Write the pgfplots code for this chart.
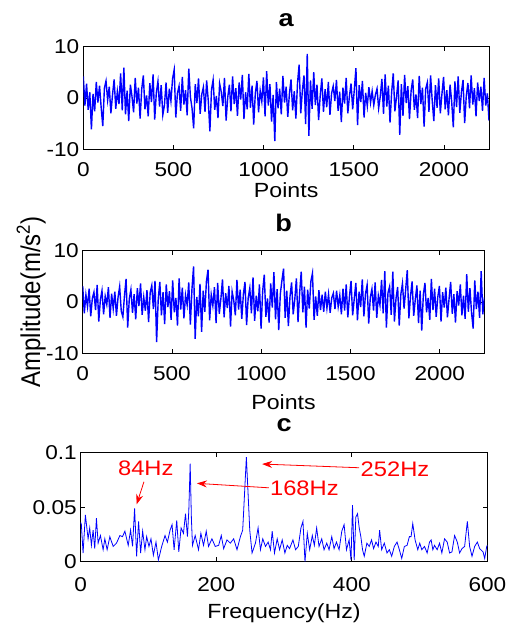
\documentclass[border=0pt]{standalone}
\usepackage{fontspec}
\setmainfont{Liberation Sans}
\usepackage{pgfplots}
\usepackage{pgfplotstable}
\pgfplotsset{compat=1.18}
\usetikzlibrary{arrows.meta}

% signal a, one value every 9 points
\pgfplotstableread[row sep=\\]{
v\\
4.2\\ -1.5\\ 2.8\\ -2.3\\ 1.1\\ -6.1\\ 0.8\\ -2.6\\ 3.1\\ -0.9\\ 2.4\\ -1.8\\ -5.5\\ 1.9\\ 3.3\\ -0.4\\ 2.2\\ -3.0\\ 0.6\\ 3.6\\ -2.1\\ 1.3\\ -1.2\\ 4.8\\ -2.4\\
5.9\\ -3.2\\ 1.4\\ -4.5\\ 2.6\\ 0.3\\ -2.8\\ 3.9\\ -1.1\\ 2.0\\ -4.0\\ 1.7\\ 4.4\\ -2.2\\ 0.5\\ -3.6\\ 2.9\\ -0.8\\ 4.6\\ -4.2\\ 1.0\\ 3.2\\ -1.7\\ 2.5\\ -3.3\\
-1.4\\ 3.0\\ -2.9\\ 1.8\\ -0.6\\ 3.7\\ 5.5\\ -3.8\\ 0.9\\ 2.3\\ -2.5\\ 4.1\\ -1.3\\ 1.5\\ -3.4\\ 5.7\\ 0.2\\ -2.0\\ -5.9\\ 2.7\\ -1.0\\ 3.8\\ -3.1\\ 0.7\\ 2.1\\
-2.7\\ 3.4\\ -0.5\\ -6.5\\ 1.6\\ 3.5\\ -2.3\\ 0.4\\ -3.9\\ 2.8\\ 1.2\\ -1.6\\ 3.9\\ -4.4\\ 0.1\\ 2.6\\ -2.6\\ 4.2\\ -1.2\\ 1.9\\ -3.5\\ 3.0\\ -0.3\\ 4.5\\ -4.1\\
1.1\\ -2.2\\ 4.7\\ -1.9\\ 2.4\\ -5.2\\ 0.9\\ 3.3\\ -2.8\\ 1.4\\ -0.7\\ 4.0\\ -3.6\\ 5.2\\ -1.5\\ 2.7\\ -4.6\\ 0.6\\ -8.4\\ 3.1\\ -2.0\\ 1.8\\ -3.2\\ 4.3\\ -0.9\\
2.2\\ -3.7\\ 0.8\\ 3.6\\ -2.4\\ 1.3\\ -4.0\\ 2.9\\ 6.5\\ -3.0\\ 1.5\\ 4.4\\ -5.1\\ 8.6\\ -7.4\\ 3.4\\ -2.1\\ 5.0\\ -1.4\\ 2.6\\ -4.3\\ 0.5\\ 3.8\\ -2.7\\ 1.7\\
-1.8\\ 3.1\\ -3.3\\ 0.9\\ 2.3\\ -0.6\\ 3.5\\ -2.5\\ 1.2\\ -4.7\\ 2.0\\ -1.1\\ 3.9\\ -3.0\\ 0.4\\ 2.8\\ -2.2\\ 1.6\\ 5.8\\ -5.3\\ 2.5\\ -0.8\\ 3.3\\ -3.8\\ 1.0\\
-1.6\\ 2.1\\ -0.9\\ 1.3\\ -1.4\\ 0.6\\ 1.8\\ -2.0\\ 0.3\\ 3.7\\ -3.1\\ 4.6\\ -1.7\\ 2.4\\ -4.8\\ 1.1\\ 4.8\\ -2.6\\ 0.2\\ 3.4\\ -7.2\\ 2.7\\ -3.5\\ 4.5\\ -1.0\\
2.3\\ -4.1\\ 1.4\\ 3.6\\ -2.3\\ 0.7\\ -3.9\\ 4.3\\ -1.2\\ 2.0\\ -5.6\\ 1.8\\ 3.0\\ -2.7\\ 4.4\\ -0.5\\ -4.5\\ 2.5\\ -1.9\\ 3.8\\ -3.0\\ 0.8\\ 4.1\\ -2.2\\ 1.5\\
-3.4\\ 2.6\\ -0.7\\ -5.7\\ 3.2\\ -1.8\\ 4.2\\ -2.9\\ 1.1\\ 3.5\\ -4.9\\ 0.4\\ 2.9\\ -2.0\\ 4.4\\ -1.3\\ 1.9\\ -3.6\\ 3.0\\ -0.6\\ 2.2\\ -2.5\\ 3.9\\ -1.5\\ 0.9\\ -4.4\\
}\sigA

% signal b, one value every 9 points
\pgfplotstableread[row sep=\\]{
v\\
3.1\\ -2.2\\ 1.4\\ -0.9\\ 2.6\\ -2.8\\ 0.7\\ 1.9\\ -1.6\\ 3.3\\ -3.8\\ 0.4\\ 2.2\\ -2.4\\ 1.1\\ -0.5\\ 2.9\\ -3.1\\ 1.6\\ -1.3\\ 2.0\\ -2.7\\ 0.9\\ 3.0\\ -1.8\\
-2.9\\ 1.2\\ 4.5\\ -5.0\\ 0.6\\ 2.4\\ -2.1\\ 1.5\\ -3.4\\ 2.7\\ -0.8\\ 3.6\\ -2.5\\ 0.9\\ -1.7\\ 2.3\\ -3.9\\ 1.8\\ 3.2\\ -1.4\\ 4.1\\ -7.8\\ 0.5\\ 3.9\\ -2.6\\
1.9\\ -4.3\\ 3.4\\ -1.0\\ 2.1\\ -3.5\\ 4.2\\ -2.0\\ 0.8\\ -4.6\\ 4.6\\ -1.5\\ 2.8\\ -3.2\\ 1.3\\ -0.6\\ 3.8\\ -4.4\\ 2.5\\ 6.9\\ -7.2\\ 1.0\\ -2.8\\ 3.5\\ -5.8\\
2.2\\ -1.9\\ 4.0\\ 6.3\\ -3.6\\ 1.4\\ -0.7\\ 2.9\\ -4.1\\ 3.7\\ -2.3\\ 0.6\\ 4.4\\ -3.0\\ 1.7\\ -1.2\\ 3.1\\ -4.8\\ 2.0\\ 0.3\\ -2.6\\ 4.3\\ -1.5\\ 2.4\\ -3.3\\
1.5\\ 3.9\\ -4.5\\ 0.8\\ 2.7\\ -2.2\\ 4.8\\ -3.7\\ 1.2\\ -1.8\\ 3.4\\ -5.2\\ 2.1\\ 5.3\\ -2.9\\ 0.7\\ -4.0\\ 3.6\\ -1.1\\ 5.8\\ -3.4\\ 2.5\\ -5.5\\ 1.6\\ 4.2\\
6.5\\ -3.1\\ 2.2\\ -4.7\\ 1.0\\ 3.8\\ -2.4\\ 0.5\\ 4.6\\ -3.9\\ 1.7\\ 5.9\\ -2.0\\ 3.0\\ -5.0\\ 2.4\\ -1.3\\ 4.0\\ 5.6\\ -3.5\\ 1.1\\ -2.7\\ 2.3\\ -1.6\\ 1.4\\
-1.9\\ 2.0\\ -1.2\\ 1.5\\ -2.1\\ 0.8\\ 1.7\\ -1.4\\ 2.2\\ -0.9\\ 1.3\\ -2.4\\ 2.6\\ -1.7\\ 3.4\\ -3.0\\ 1.0\\ 4.1\\ -2.6\\ 0.6\\ 3.7\\ -3.6\\ 2.0\\ -1.0\\ 4.4\\
-2.8\\ 1.6\\ 3.3\\ -4.2\\ 0.9\\ 2.5\\ -1.7\\ 3.8\\ -3.1\\ 1.2\\ -0.6\\ 4.3\\ -2.2\\ 6.0\\ -5.0\\ 1.8\\ 3.0\\ -2.5\\ 5.9\\ -3.8\\ 0.7\\ 2.9\\ -4.6\\ 1.5\\ 3.6\\
-1.3\\ 2.4\\ 6.2\\ -3.2\\ 1.1\\ 4.0\\ -2.7\\ 0.5\\ 3.2\\ -4.1\\ 2.2\\ -5.6\\ 1.4\\ 3.7\\ -2.0\\ 0.8\\ -3.5\\ 4.5\\ -1.6\\ 2.6\\ -2.9\\ 1.0\\ 3.1\\ -3.8\\ 1.9\\
-1.1\\ 2.8\\ -3.0\\ 0.6\\ 3.9\\ -2.3\\ 1.5\\ -4.0\\ 2.1\\ -0.7\\ 3.4\\ -2.6\\ 1.2\\ -3.3\\ 5.4\\ -1.9\\ 2.7\\ -2.1\\ -5.2\\ 4.2\\ -1.4\\ 2.0\\ -3.1\\ 6.0\\ -2.4\\ 0.9\\
}\sigB

\definecolor{mblue}{RGB}{0,0,255}
\definecolor{mred}{RGB}{255,0,0}

\pgfplotsset{
  sig/.style={scale only axis, tick pos=both, tick align=inside,
    major tick length=4.5pt, axis line style={line width=0.8pt},
    every tick/.style={black, line width=0.8pt},
    tick label style={font=\fontsize{20}{22}\selectfont, xscale=1.13},
    label style={font=\fontsize{20.5}{22}\selectfont, xscale=1.13},
    xlabel style={at={(0.5,0)}, anchor=base},
    xticklabel style={anchor=base},
  },
}
\tikzset{ttl/.style={anchor=base, font=\fontsize{24}{26}\selectfont\bfseries, xscale=1.13}}

\begin{document}
\begin{tikzpicture}
\path[use as bounding box] (0pt,0pt) rectangle (507pt,-626pt);

\begin{axis}[sig, name=pa, at={(83.3pt,-149.3pt)}, anchor=south west,
  width=405.7pt, height=102.7pt,
  xmin=0, xmax=2250, ymin=-10, ymax=10,
  xtick={0,500,1000,1500,2000}, xticklabels={0,500,1000,1500,2000},
  ytick={-10,0,10}, yticklabels={-10,0,10},
  xlabel={Points}, xlabel style={yshift=-48pt},
  xticklabel style={yshift=-27.5pt}]
\addplot[mblue, line width=1.4pt] table[x expr=\coordindex*9, y=v] {\sigA};
\end{axis}

\begin{axis}[sig, name=pb, at={(82.7pt,-353.3pt)}, anchor=south west,
  width=401.7pt, height=102.7pt,
  xmin=0, xmax=2250, ymin=-10, ymax=10,
  xtick={0,500,1000,1500,2000}, xticklabels={0,500,1000,1500,2000},
  ytick={-10,0,10}, yticklabels={-10,0,10},
  xlabel={Points}, xlabel style={yshift=-56pt},
  xticklabel style={yshift=-26.7pt}]
\addplot[mblue, line width=1.4pt] table[x expr=\coordindex*9, y=v] {\sigB};
\end{axis}

\begin{axis}[sig, name=pc, at={(80.7pt,-561.7pt)}, anchor=south west,
  width=406.7pt, height=109pt, clip=false,
  xmin=0, xmax=600, ymin=0, ymax=0.1,
  xtick={0,200,400,600}, xticklabels={0,200,400,600},
  ytick={0,0.05,0.1}, yticklabels={0,0.05,0.1},
  xlabel={Frequency(Hz)}, xlabel style={yshift=-57pt},
  xticklabel style={yshift=-30pt}]
\addplot[mblue, line width=0.8pt] coordinates {
(0,0.036) (1.0,0.034) (3.5,0.008) (6.9,0.043) (10.9,0.021) (13.3,0.031) (15.8,0.015) (18.3,0.029) (20.7,0.012) (23.2,0.040)
(25.7,0.017) (29.1,0.024) (33.1,0.011) (35.6,0.021) (39.0,0.011) (43.0,0.023) (47.9,0.014) (52.8,0.017) (57.8,0.024) (61.7,0.023)
(65.2,0.028) (70.1,0.015) (73.6,0.029) (76.5,0.014) (79.5,0.049) (82.5,0.005) (85.4,0.037) (88.4,0.008) (91.4,0.028) (94.8,0.011)
(97.3,0.023) (100.7,0.014) (103.7,0.021) (107.2,0.006) (111.1,0.018) (114.6,0.0015) (119.5,0.014) (124.4,0.024) (127.9,0.018) (131.9,0.029)
(134.8,0.034) (137.8,0.011) (141.7,0.038) (144.7,0.009) (148.1,0.031) (151.6,0.026) (154.6,0.044) (157.5,0.023) (159.5,0.047) (161.5,0.090)
(163.3,0.040) (164.9,0.015) (168.9,0.024) (173.8,0.011) (177.3,0.026) (181.2,0.015) (185.2,0.028) (188.6,0.014) (193.6,0.021) (198.5,0.014)
(203.5,0.015) (207.4,0.024) (210.9,0.012) (215.8,0.020) (220.7,0.017) (225.7,0.021) (230.6,0.011) (235.6,0.023) (239.0,0.029) (242.0,0.066)
(244.4,0.096) (246.9,0.063) (249.4,0.029) (252.8,0.008) (257.8,0.017) (261.7,0.031) (265.2,0.011) (268.6,0.021) (272.6,0.014) (276.5,0.018)
(280.0,0.011) (282.5,0.028) (285.9,0.008) (289.9,0.021) (293.4,0.011) (297.3,0.020) (301.2,0.008) (304.7,0.015) (308.1,0.012) (313.1,0.020)
(317.0,0.011) (321.0,0.014) (324.9,0.031) (327.9,0.037) (330.9,0.0) (334.3,0.026) (337.8,0.011) (341.7,0.024) (344.7,0.015) (348.1,0.031)
(351.6,0.014) (355.6,0.021) (359.0,0.011) (363.0,0.017) (366.4,0.011) (370.4,0.023) (373.8,0.012) (377.3,0.018) (381.2,0.011) (385.2,0.028)
(388.6,0.034) (392.1,0.011) (396.0,0.020) (398.8,0.0015) (401.0,0.052) (403.5,0.0015) (405.9,0.041) (408.4,0.044) (410.9,0.031) (413.3,0.023)
(415.8,0.011) (418.3,0.005) (422.2,0.017) (425.7,0.014) (429.1,0.020) (432.1,0.012) (435.6,0.018) (439.0,0.014) (441.0,0.029) (444.0,0.011)
(447.9,0.017) (451.9,0.008) (455.3,0.011) (458.8,0.005) (462.7,0.014) (466.7,0.018) (470.1,0.011) (473.6,0.003) (477.5,0.014) (481.5,0.015)
(484.9,0.023) (487.4,0.023) (489.9,0.035) (493.3,0.020) (497.3,0.011) (500.2,0.017) (503.2,0.011) (507.2,0.014) (511.1,0.008) (514.6,0.018)
(517.0,0.020) (519.5,0.011) (522.0,0.015) (525.9,0.011) (529.4,0.017) (532.8,0.008) (536.8,0.021) (540.7,0.018) (544.2,0.008) (547.7,0.009)
(551.6,0.024) (555.6,0.018) (559.0,0.008) (562.5,0.012) (566.4,0.014) (570.4,0.037) (573.8,0.014) (577.3,0.005) (581.2,0.014) (585.2,0.018)
(588.6,0.012) (593.6,0.009) (596.0,0.003) (599.0,0.014) (600,0.015)
};
\draw[mred, line width=0.8pt, -{Stealth[length=10pt,width=7pt]}] (axis cs:93.3,0.0733) -- (axis cs:82.5,0.0526);
\draw[mred, line width=0.8pt, -{Stealth[length=10pt,width=7pt]}] (axis cs:277.5,0.0678) -- (axis cs:171.4,0.0719);
\draw[mred, line width=0.8pt, -{Stealth[length=10pt,width=7pt]}] (axis cs:410.8,0.0862) -- (axis cs:267.7,0.0896);
\node[mred, anchor=base, font=\fontsize{21}{23}\selectfont, xscale=1.13] at (axis cs:96,0.0795) {84Hz};
\node[mred, anchor=base, font=\fontsize{21}{23}\selectfont, xscale=1.13] at (axis cs:330,0.0611) {168Hz};
\node[mred, anchor=base, font=\fontsize{21}{23}\selectfont, xscale=1.13] at (axis cs:463.7,0.0779) {252Hz};
\end{axis}

\node[ttl] at ([yshift=20.3pt]pa.north) {a};
\node[ttl] at ([yshift=19.3pt]pb.north) {b};
\node[ttl] at ([yshift=21pt]pc.north) {c};
\node[rotate=90, yscale=1.13, anchor=base, font=\fontsize{24}{26}\selectfont]
  at (40pt,-302pt) {Amplitude(m/s\textsuperscript{2})};
\end{tikzpicture}
\end{document}
